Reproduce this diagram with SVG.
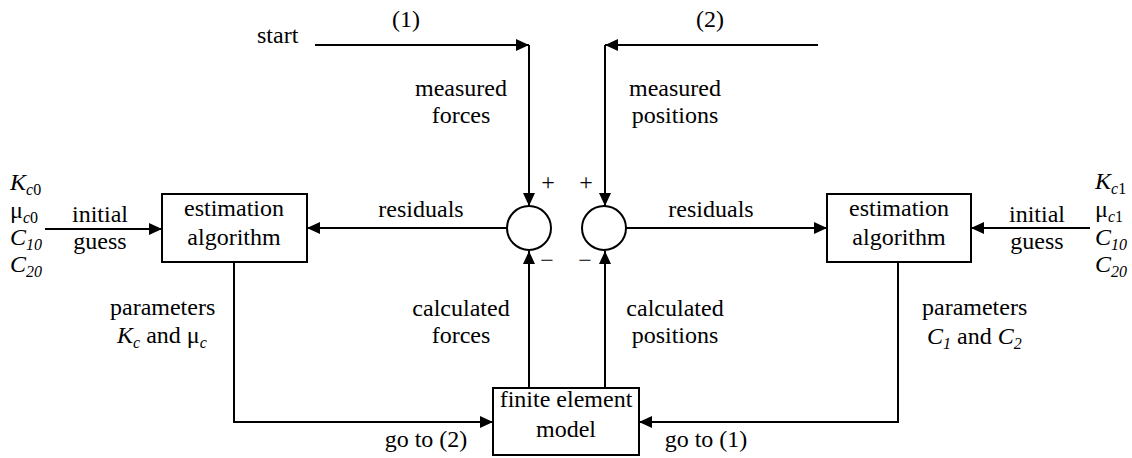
<svg xmlns="http://www.w3.org/2000/svg" width="1132" height="458" viewBox="0 0 1132 458" font-family="'Liberation Serif', 'DejaVu Serif', serif">
<style>
text{font-family:'Liberation Serif','DejaVu Serif',serif;font-size:24px;fill:#000}
.c{text-anchor:middle}
.i{font-style:italic}
.s{font-size:16px}
.box{fill:#fff;stroke:#000;stroke-width:2}
.ln{fill:none;stroke:#000;stroke-width:2}
</style>
<defs>
<marker id="ah" markerUnits="userSpaceOnUse" markerWidth="14" markerHeight="12" refX="13" refY="6" orient="auto">
<path d="M0,0 L13,6 L0,12 z" fill="#000"/>
</marker>
</defs>
<g id="connectors">
<path class="ln" d="M315,45 H529" marker-end="url(#ah)"/>
<path class="ln" d="M529,45 V206" marker-end="url(#ah)"/>
<path class="ln" d="M818,45 H605" marker-end="url(#ah)"/>
<path class="ln" d="M605,45 V206" marker-end="url(#ah)"/>
<path class="ln" d="M507,228 H307" marker-end="url(#ah)"/>
<path class="ln" d="M626,228 H827" marker-end="url(#ah)"/>
<path class="ln" d="M45,229 H162" marker-end="url(#ah)"/>
<path class="ln" d="M1090,228 H971" marker-end="url(#ah)"/>
<path class="ln" d="M234,262 V422 H493" marker-end="url(#ah)"/>
<path class="ln" d="M898,262 V422 H639" marker-end="url(#ah)"/>
<path class="ln" d="M529,388 V251" marker-end="url(#ah)"/>
<path class="ln" d="M605,388 V251" marker-end="url(#ah)"/>
</g>
<g id="labels">
<text x="257" y="43">start</text>
<text class="c" x="406" y="27">(1)</text>
<text class="c" x="710" y="27">(2)</text>
<text class="c" x="461" y="96">measured</text>
<text class="c" x="461" y="123">forces</text>
<text class="c" x="675" y="96">measured</text>
<text class="c" x="675" y="123">positions</text>
<text class="c" x="421" y="217">residuals</text>
<text class="c" x="711" y="217">residuals</text>
<text class="c" x="548" y="190">+</text>
<text class="c" x="586" y="190">+</text>
<text class="c" x="547" y="268">−</text>
<text class="c" x="585" y="268">−</text>
<text class="c" x="461" y="316">calculated</text>
<text class="c" x="461" y="343">forces</text>
<text class="c" x="675" y="316">calculated</text>
<text class="c" x="675" y="343">positions</text>
<text x="110" y="315">parameters</text>
<text x="117" y="343"><tspan class="i">K</tspan><tspan class="i s" dy="5">c</tspan><tspan dy="-5"> and μ</tspan><tspan class="i s" dy="5">c</tspan></text>
<text x="922" y="315">parameters</text>
<text x="927" y="344"><tspan class="i">C</tspan><tspan class="i s" dy="5">1</tspan><tspan dy="-5"> and </tspan><tspan class="i">C</tspan><tspan class="i s" dy="5">2</tspan></text>
<text class="c" x="426" y="447">go to (2)</text>
<text class="c" x="706" y="447">go to (1)</text>
<text class="c" x="100" y="222">initial</text>
<text class="c" x="100" y="249">guess</text>
<text class="c" x="1037" y="222">initial</text>
<text class="c" x="1037" y="249">guess</text>
<text x="10" y="190"><tspan class="i">K</tspan><tspan class="i s" dy="5">c</tspan><tspan class="s">0</tspan></text>
<text x="10" y="218"><tspan>μ</tspan><tspan class="i s" dy="5">c</tspan><tspan class="s">0</tspan></text>
<text x="10" y="245"><tspan class="i">C</tspan><tspan class="i s" dy="5">10</tspan></text>
<text x="10" y="272"><tspan class="i">C</tspan><tspan class="i s" dy="5">20</tspan></text>
<text x="1095" y="189"><tspan class="i">K</tspan><tspan class="i s" dy="5">c</tspan><tspan class="s">1</tspan></text>
<text x="1095" y="217"><tspan>μ</tspan><tspan class="i s" dy="5">c</tspan><tspan class="s">1</tspan></text>
<text x="1095" y="245"><tspan class="i">C</tspan><tspan class="i s" dy="5">10</tspan></text>
<text x="1095" y="272"><tspan class="i">C</tspan><tspan class="i s" dy="5">20</tspan></text>
</g>
<g id="est-left">
<rect class="box" x="162" y="194" width="145" height="68"/>
<text class="c" x="234" y="216">estimation</text>
<text class="c" x="234" y="245">algorithm</text>
</g>
<g id="est-right">
<rect class="box" x="827" y="194" width="144" height="68"/>
<text class="c" x="899" y="216">estimation</text>
<text class="c" x="899" y="245">algorithm</text>
</g>
<g id="sum-left">
<circle class="box" cx="529" cy="228" r="22"/>
</g>
<g id="sum-right">
<circle class="box" cx="604" cy="228" r="22"/>
</g>
<g id="fem">
<rect class="box" x="493" y="388" width="146" height="67"/>
<text class="c" x="566" y="407">finite element</text>
<text class="c" x="566" y="437">model</text>
</g>
</svg>
